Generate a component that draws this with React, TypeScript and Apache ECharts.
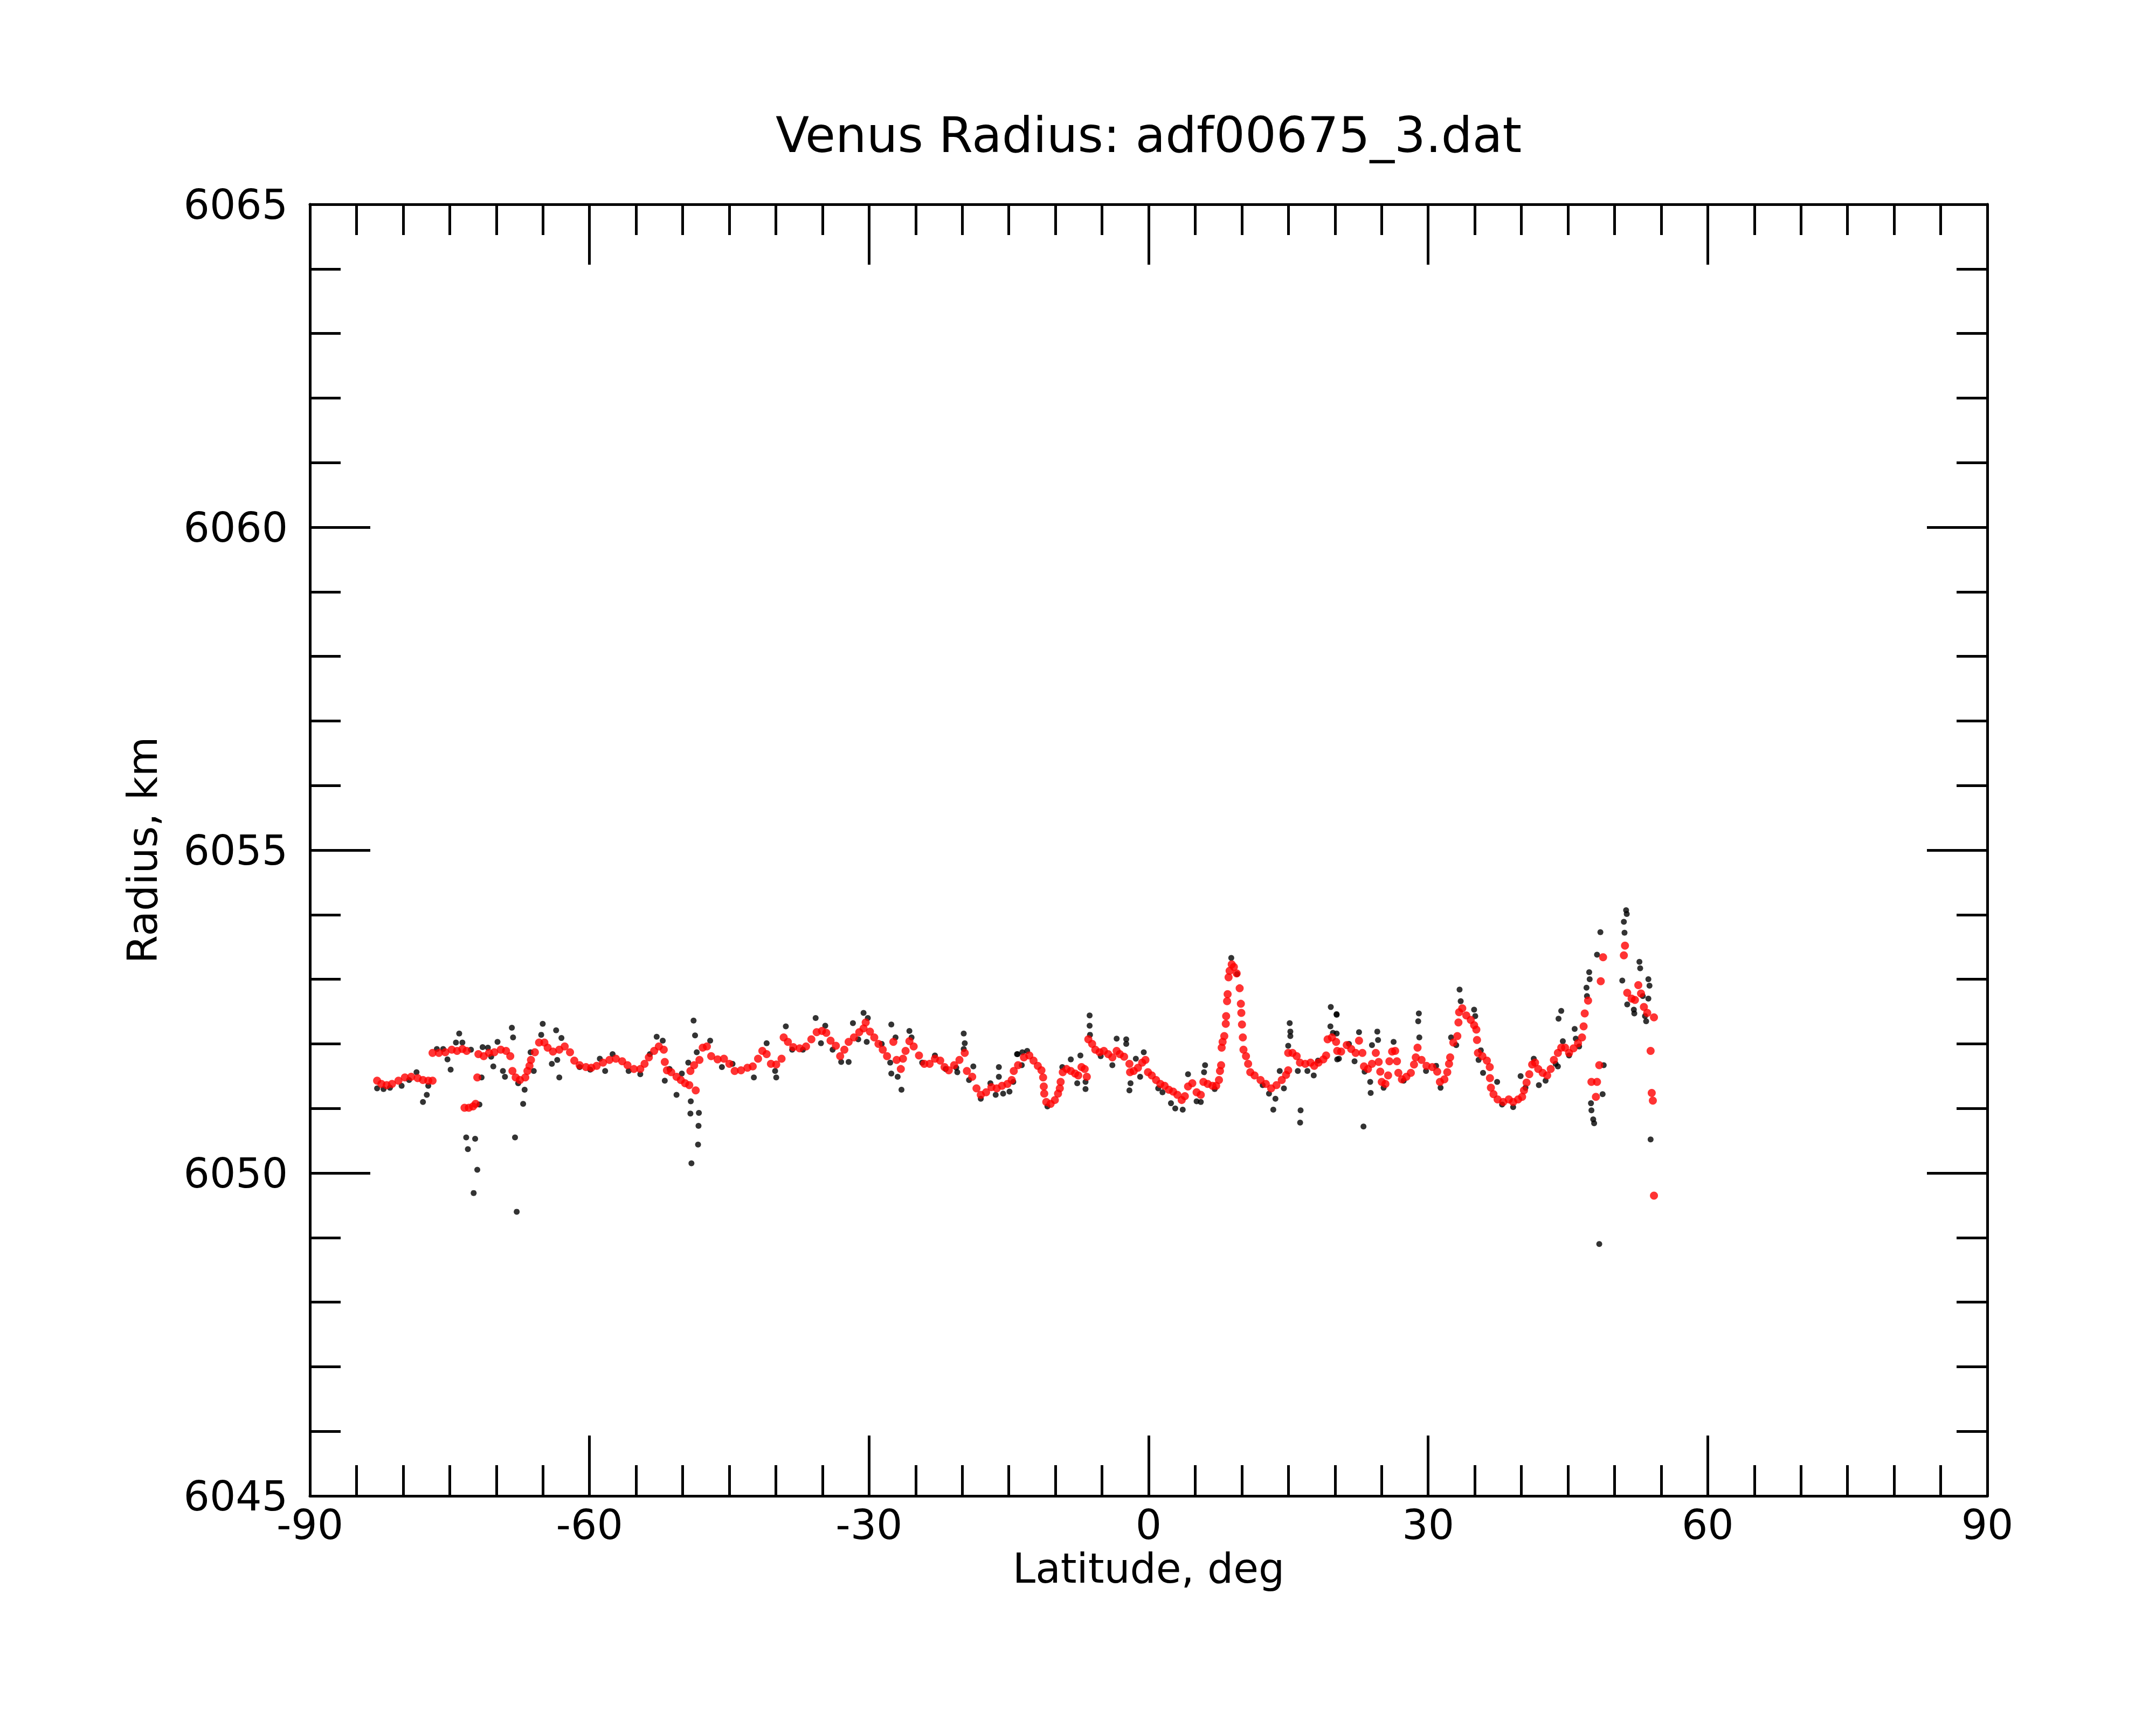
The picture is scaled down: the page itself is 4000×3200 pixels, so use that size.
import React, { useEffect, useRef } from "react";
import * as echarts from "echarts";

const chartTitle = "Venus Radius: adf00675_3.dat";
const xName = "Latitude, deg";
const yName = "Radius, km";

const xTickMin = -90;
const xTickMax = 90;
const xTickStep = 30;
const yTickMin = 6045;
const yTickMax = 6065;
const yTickStep = 5;

// Smoothed profile (red)
const redLat = [
  -82.79, -82.33, -81.76, -81.19, -80.5, -79.81, -79.13, -78.44, -77.87, -77.3, -76.84,
  -76.84, -76.16, -75.47, -74.78, -74.21, -73.64, -73.18,
  -73.41, -72.95, -72.5, -72.22, -72.04,
  -71.92, -71.35, -70.78, -70.21, -69.52, -68.95, -68.5, -68.27, -67.92, -67.47, -66.89, -66.66,
  -66.44, -66.28, -65.86, -65.41, -64.84, -64.49, -63.92, -63.24, -62.66, -62.09, -61.63, -61.06,
  -60.38, -59.8, -59.23, -58.55, -57.86, -57.17, -56.49, -55.92, -55.23, -54.55, -54.09, -53.63,
  -53.06, -52.56, -52.03, -51.92, -51.69, -51.23, -50.66, -50.2, -49.74, -49.29, -48.6, -49.17,
  -48.77, -48.2, -47.85, -47.4, -46.94, -46.25, -45.57, -44.99, -44.42, -43.74, -43.05, -42.48,
  -41.91, -41.45, -40.99, -40.53, -39.96, -39.39, -39.16, -38.71, -38.13, -37.45, -36.76, -36.19,
  -35.62, -35.05, -34.59, -34.13, -33.56, -33.1, -32.65, -32.19, -31.62, -31.05, -30.59, -30.36,
  -29.9, -29.44, -28.99, -28.53, -28.07, -27.39, -27.04, -26.59, -26.36, -26.08, -25.67, -25.21,
  -24.64, -24.07, -23.5, -22.93, -22.36, -21.9, -21.44, -20.87, -20.3, -19.73, -19.5, -18.93,
  -18.47, -18.01, -17.44, -16.87, -16.3, -15.73, -15.15, -14.69, -14.47, -14.01, -13.38, -12.8,
  -12.35, -11.89, -11.5, -11.32, -11.25, -11.2, -10.98, -10.52, -10.06, -9.72, -9.53, -9.44,
  -9.21, -8.8, -8.35, -7.89, -7.55, -7.2, -6.86, -6.63, -6.47, -6.06, -5.72, -5.26,
  -4.8, -4.34, -3.89, -3.43, -3.09, -2.63, -2.06, -1.99, -1.6, -1.14, -0.69, -0.34,
  -0.07, 0.34, 0.8, 1.26, 1.72, 2.17, 2.63, 3.09, 3.55, 3.89, 4.23, 4.69,
  5.15, 5.6, 5.88, 6.34, 6.86, 7.25, 7.55, 7.66, 7.78, 7.84, 7.94, 8.12,
  8.28, 8.32, 8.42, 8.48, 8.58, 8.69, 8.92, 9.15, 9.45, 9.77, 9.9, 9.95,
  10.02, 10.11, 10.18, 10.45, 10.68, 10.91, 11.37, 12.01, 12.58, 13.15, 13.72, 14.29,
  14.75, 14.98, 14.98, 15.44, 15.89, 16.24, 16.81, 17.38, 17.77, 18.23, 18.75, 19.05,
  19.21, 19.67, 20.12, 20.24, 20.66, 21.26, 21.74, 22.22, 22.58, 22.94, 23.11, 23.54,
  23.97, 24.38, 24.69, 24.86, 25.02, 25.41, 25.7, 25.84, 26.13, 26.46, 26.65, 26.8,
  27.18, 27.66, 28.14, 28.48, 28.67, 28.86, 29.29, 29.82, 30.44, 30.97, 31.26, 31.74,
  32.05, 32.24, 32.36, 32.7, 33.13, 33.25, 33.32, 33.66, 34.09, 34.57, 34.93, 35.17,
  35.24, 35.34, 35.82, 36.3, 36.61, 36.63, 36.73, 37.01, 37.45, 38.05, 38.65, 39.12,
  39.65, 40.08, 40.28, 40.56, 40.85, 41.16, 41.47, 41.81, 42.29, 42.77, 43.15, 43.49,
  43.92, 44.28, 44.69, 45.12, 45.6, 46.08, 46.51, 46.68, 46.8, 47.16, 47.52, 48.0,
  48.12, 48.36, 48.52, 48.77, 51.0, 51.12, 51.36, 51.83, 52.19, 52.55, 52.84, 53.15,
  53.51, 54.23, 53.87, 53.99, 54.11, 54.23,
];
const redRadius = [
  6051.43, 6051.38, 6051.36, 6051.38, 6051.43, 6051.48, 6051.49, 6051.47, 6051.44, 6051.43, 6051.43,
  6051.86, 6051.86, 6051.87, 6051.91, 6051.89, 6051.92, 6051.89,
  6051.01, 6051.01, 6051.03, 6051.07, 6051.48,
  6051.84, 6051.81, 6051.86, 6051.87, 6051.91, 6051.89, 6051.81, 6051.58, 6051.48, 6051.44, 6051.48, 6051.58,
  6051.66, 6051.75, 6051.87, 6052.02, 6052.02, 6051.94, 6051.88, 6051.91, 6051.96, 6051.87, 6051.74, 6051.67,
  6051.64, 6051.63, 6051.66, 6051.71, 6051.75, 6051.77, 6051.73, 6051.67, 6051.61, 6051.61, 6051.69, 6051.79,
  6051.89, 6051.96, 6051.91, 6051.72, 6051.59, 6051.56, 6051.49, 6051.44, 6051.39, 6051.36, 6051.28, 6051.58,
  6051.67, 6051.75, 6051.94, 6051.96, 6051.81, 6051.76, 6051.77, 6051.69, 6051.58, 6051.59, 6051.63, 6051.65,
  6051.77, 6051.89, 6051.84, 6051.69, 6051.68, 6051.77, 6052.1, 6052.03, 6051.95, 6051.93, 6051.96, 6052.07,
  6052.18, 6052.2, 6052.17, 6052.05, 6051.97, 6051.81, 6051.91, 6052.03, 6052.1, 6052.18, 6052.24, 6052.33,
  6052.19, 6052.1, 6052.0, 6051.91, 6051.81, 6052.03, 6051.75, 6051.61, 6051.77, 6051.89, 6052.04, 6051.96,
  6051.82, 6051.69, 6051.69, 6051.77, 6051.74, 6051.64, 6051.59, 6051.67, 6051.75, 6051.86, 6051.58, 6051.49,
  6051.31, 6051.21, 6051.25, 6051.33, 6051.31, 6051.35, 6051.38, 6051.44, 6051.58, 6051.67, 6051.79, 6051.82,
  6051.74, 6051.66, 6051.59, 6051.48, 6051.34, 6051.23, 6051.1, 6051.07, 6051.13, 6051.23, 6051.31, 6051.41,
  6051.56, 6051.61, 6051.58, 6051.54, 6051.51, 6051.64, 6051.61, 6051.49, 6052.07, 6052.0, 6051.91, 6051.87,
  6051.89, 6051.84, 6051.79, 6051.89, 6051.84, 6051.8, 6051.69, 6051.56, 6051.58, 6051.63, 6051.71, 6051.75,
  6051.56, 6051.51, 6051.44, 6051.38, 6051.35, 6051.29, 6051.26, 6051.21, 6051.13, 6051.19, 6051.34, 6051.39,
  6051.25, 6051.21, 6051.41, 6051.38, 6051.35, 6051.35, 6051.44, 6051.58, 6051.67, 6051.94, 6052.03, 6052.12,
  6052.31, 6052.43, 6052.66, 6052.77, 6053.03, 6053.13, 6053.23, 6053.19, 6053.09, 6052.86, 6052.62, 6052.48,
  6052.3, 6052.1, 6051.91, 6051.81, 6051.69, 6051.56, 6051.51, 6051.44, 6051.38, 6051.31, 6051.36, 6051.44,
  6051.52, 6051.59, 6051.86, 6051.86, 6051.81, 6051.71, 6051.69, 6051.71, 6051.66, 6051.71, 6051.76, 6051.82,
  6052.07, 6052.1, 6052.03, 6051.89, 6051.88, 6051.98, 6051.92, 6051.86, 6052.05, 6051.86, 6051.65, 6051.61,
  6051.69, 6051.86, 6051.72, 6051.57, 6051.41, 6051.38, 6051.51, 6051.73, 6051.88, 6051.89, 6051.73, 6051.55,
  6051.45, 6051.49, 6051.55, 6051.68, 6051.79, 6051.94, 6051.75, 6051.66, 6051.64, 6051.57, 6051.41, 6051.45,
  6051.56, 6051.69, 6051.79, 6052.02, 6052.12, 6052.33, 6052.49, 6052.55, 6052.44, 6052.37, 6052.29, 6052.22,
  6052.06, 6051.86, 6051.81, 6051.74, 6051.64, 6051.47, 6051.32, 6051.22, 6051.14, 6051.1, 6051.14, 6051.1,
  6051.14, 6051.18, 6051.28, 6051.4, 6051.53, 6051.68, 6051.71, 6051.61, 6051.55, 6051.51, 6051.61, 6051.75,
  6051.86, 6051.94, 6051.94, 6051.86, 6051.93, 6052.01, 6052.1, 6052.27, 6052.47, 6052.67, 6051.41, 6051.18,
  6051.41, 6051.67, 6052.97, 6053.34, 6053.37, 6053.52, 6052.79, 6052.7, 6052.68, 6052.91, 6052.78, 6052.57,
  6052.48, 6052.41, 6051.89, 6051.24, 6051.12, 6049.65,
];

// Individual measurements (black)
const blackLat = [
  -82.79, -82.1, -81.41, -80.16, -79.36, -78.56, -77.3, -77.46, -77.87, -76.38, -75.7, -75.24,
  -74.9, -74.33, -73.98, -73.64, -72.72, -73.23, -72.27, -73.05, -72.04, -72.43, -71.81, -71.58,
  -71.47, -70.9, -70.55, -70.32, -69.87, -69.29, -69.07, -68.33, -68.2, -67.99, -67.81, -67.65,
  -67.12, -66.96, -66.32, -65.98, -65.18, -65.02, -64.04, -63.58, -63.46, -63.24, -63.01, -61.06,
  -59.92, -58.89, -58.32, -57.52, -55.8, -54.55, -53.52, -52.79, -52.14, -51.92, -51.41, -50.66,
  -50.09, -49.4, -48.83, -48.67, -48.49, -49.13, -49.17, -48.26, -48.3, -48.35, -49.06,
  -47.05, -45.79, -44.65, -42.36, -40.99, -39.96, -40.08, -38.93, -38.25, -37.1, -35.73, -34.7,
  -35.16, -33.91, -32.99, -32.19, -31.73, -31.16, -30.59, -30.13, -30.25, -28.64, -27.61, -27.16,
  -27.73, -27.61, -26.93, -26.52, -25.67, -25.44, -24.3, -22.93, -21.78, -20.64, -20.53, -19.84,
  -19.73, -19.84, -19.27, -18.81, -18.01, -16.98, -16.41, -16.07, -16.07, -15.61, -14.93, -14.12,
  -13.55, -14.52, -14.06, -13.03, -13.61, -10.86, -9.26, -8.35, -7.66, -7.32, -6.77, -6.77,
  -6.33, -6.33, -6.29, -5.14, -3.89, -3.43, -2.4, -2.4, -2.06, -1.94, -1.37, -0.52,
  -0.91, 1.03, 1.49, 2.4, 2.86, 3.66, 4.23, 5.15, 5.6, 5.95, 6.06, 7.09,
  8.87, 9.49, 12.24, 12.92, 13.38, 13.61, 14.07, 14.52, 14.98, 15.14, 15.21, 15.21,
  16.01, 16.31, 16.26, 17.04, 17.72, 18.18, 19.55, 20.17, 19.51, 19.78, 20.24, 20.18,
  20.18, 20.42, 21.5, 22.1, 22.58, 23.06, 23.18, 23.78, 23.83, 23.97, 24.54, 24.62,
  25.22, 26.29, 27.37, 29.0, 28.93, 29.05, 29.77, 30.85, 31.33, 32.46, 33.01, 33.37,
  33.49, 34.93, 35.05, 35.65, 35.41, 35.89, 37.4, 37.93, 39.12, 39.92, 40.44, 41.33,
  41.88, 42.6, 43.68, 43.99, 44.28, 43.92, 44.45, 45.12, 45.72, 45.84, 46.2, 46.99,
  47.04, 47.28, 47.33, 47.47, 47.52, 47.71, 47.81, 48.12, 48.48, 48.36, 48.84, 48.72,
  50.83, 51.0, 51.07, 51.24, 51.31, 51.36, 52.07, 52.12, 52.67, 52.75, 53.03, 53.63,
  53.75, 53.63, 53.39, 53.27, 53.87,
];
const blackRadius = [
  6051.31, 6051.3, 6051.32, 6051.35, 6051.44, 6051.56, 6051.35, 6051.21, 6051.1, 6051.92, 6051.92, 6051.76,
  6051.6, 6052.02, 6052.16, 6052.02, 6051.91, 6050.55, 6050.53, 6050.37, 6050.05, 6049.69, 6051.06, 6051.48,
  6051.95, 6051.94, 6051.8, 6051.65, 6052.03, 6051.58, 6051.49, 6052.25, 6052.1, 6050.55, 6049.4, 6051.39,
  6051.07, 6051.29, 6051.87, 6051.58, 6052.14, 6052.31, 6051.69, 6052.21, 6051.75, 6051.48, 6052.09, 6051.64,
  6051.6, 6051.77, 6051.58, 6051.84, 6051.58, 6051.53, 6051.84, 6052.11, 6052.05, 6051.43, 6051.61, 6051.21,
  6051.54, 6051.71, 6052.36, 6052.13, 6051.87, 6051.11, 6050.92, 6050.93, 6050.73, 6050.44, 6050.15,
  6052.05, 6051.64, 6051.69, 6051.48, 6052.01, 6051.48, 6051.58, 6052.27, 6051.91, 6051.91, 6052.4, 6052.28,
  6052.01, 6051.91, 6051.72, 6051.72, 6052.32, 6052.07, 6052.48, 6052.4, 6052.03, 6052.0, 6052.3, 6052.1,
  6051.71, 6051.54, 6051.49, 6051.29, 6052.2, 6052.1, 6051.71, 6051.82, 6051.61, 6051.63, 6051.56, 6052.16,
  6052.01, 6051.92, 6051.44, 6051.65, 6051.15, 6051.39, 6051.21, 6051.64, 6051.49, 6051.23, 6051.26, 6051.84,
  6051.87, 6051.41, 6051.84, 6051.89, 6051.67, 6051.03, 6051.64, 6051.76, 6051.39, 6051.82, 6051.3, 6051.41,
  6052.44, 6052.28, 6052.14, 6051.81, 6051.67, 6052.08, 6052.07, 6052.0, 6051.28, 6051.39, 6051.77, 6051.87,
  6051.49, 6051.31, 6051.25, 6051.08, 6051.0, 6050.98, 6051.53, 6051.11, 6051.1, 6051.56, 6051.67, 6051.3,
  6053.33, 6053.08, 6051.36, 6051.23, 6050.98, 6051.15, 6051.58, 6051.31, 6051.97, 6052.32, 6052.19, 6052.12,
  6051.58, 6050.97, 6050.78, 6051.58, 6051.51, 6051.74, 6052.57, 6052.46, 6052.27, 6052.17, 6051.76, 6052.45,
  6052.16, 6051.77, 6052.0, 6051.73, 6052.18, 6050.72, 6051.57, 6051.41, 6051.24, 6051.98, 6052.19, 6052.06,
  6051.32, 6052.03, 6051.43, 6052.47, 6052.35, 6052.1, 6051.58, 6051.66, 6051.32, 6052.1, 6051.98, 6052.84,
  6052.66, 6052.53, 6052.43, 6051.9, 6051.75, 6051.55, 6051.41, 6051.06, 6051.02, 6051.5, 6051.32, 6051.77,
  6051.36, 6051.43, 6051.69, 6052.39, 6052.51, 6051.65, 6052.04, 6051.82, 6052.23, 6052.08, 6051.96, 6052.87,
  6052.74, 6053.11, 6053.0, 6051.08, 6050.97, 6050.83, 6050.77, 6053.38, 6053.73, 6048.9, 6051.67, 6051.22,
  6052.98, 6053.89, 6053.72, 6054.07, 6054.01, 6052.61, 6052.53, 6052.47, 6053.27, 6053.17, 6052.74, 6053.0,
  6052.9, 6052.7, 6052.35, 6052.43, 6050.52,
];

const FONT = "DejaVu Sans";

function makeXAxis(position: "bottom" | "top", showLabel: boolean) {
  return {
    type: "value",
    position,
    min: xTickMin,
    max: xTickMax,
    interval: xTickStep,
    axisLine: { show: true, onZero: false, lineStyle: { color: "#000", width: 5 } },
    axisTick: { show: true, inside: true, length: 112, lineStyle: { color: "#000", width: 5 } },
    minorTick: { show: true, splitNumber: 6, length: 57, lineStyle: { color: "#000", width: 5 } },
    splitLine: { show: false },
    minorSplitLine: { show: false },
    axisLabel: {
      show: showLabel,
      fontSize: 76,
      color: "#000",
      fontFamily: FONT,
      margin: 15,
      formatter: (v: number) => String(v),
    },
  };
}

function makeYAxis(position: "left" | "right", showLabel: boolean) {
  return {
    type: "value",
    position,
    min: yTickMin,
    max: yTickMax,
    interval: yTickStep,
    axisLine: { show: true, onZero: false, lineStyle: { color: "#000", width: 5 } },
    axisTick: { show: true, inside: true, length: 112, lineStyle: { color: "#000", width: 5 } },
    minorTick: { show: true, splitNumber: 5, length: 57, lineStyle: { color: "#000", width: 5 } },
    splitLine: { show: false },
    minorSplitLine: { show: false },
    axisLabel: {
      show: showLabel,
      fontSize: 76,
      color: "#000",
      fontFamily: FONT,
      margin: 41,
      formatter: (v: number) => String(v),
    },
  };
}

export default function App() {
  const ref = useRef<HTMLDivElement>(null);

  useEffect(() => {
    if (!ref.current) return;
    const chart = echarts.init(ref.current, undefined, { renderer: "svg" });

    const blackData = blackLat.map((x, i) => [x, blackRadius[i]]);
    const redData = redLat.map((x, i) => [x, redRadius[i]]);

    chart.setOption({
      animation: false,
      backgroundColor: "#ffffff",
      grid: { left: 575, top: 379, width: 3112, height: 2396, containLabel: false },
      xAxis: [makeXAxis("bottom", true), makeXAxis("top", false)],
      yAxis: [makeYAxis("left", true), makeYAxis("right", false)],
      graphic: [
        {
          type: "text",
          x: 2131,
          y: 250,
          style: {
            text: chartTitle,
            fontSize: 91,
            fontFamily: FONT,
            fill: "#000",
            align: "center",
            verticalAlign: "middle",
          },
        },
        {
          type: "text",
          x: 2131,
          y: 2909,
          style: {
            text: xName,
            fontSize: 76,
            fontFamily: FONT,
            fill: "#000",
            align: "center",
            verticalAlign: "middle",
          },
        },
        {
          type: "text",
          x: 264,
          y: 1577,
          rotation: Math.PI / 2,
          style: {
            text: yName,
            fontSize: 76,
            fontFamily: FONT,
            fill: "#000",
            align: "center",
            verticalAlign: "middle",
          },
        },
      ],
      series: [
        {
          type: "scatter",
          name: "raw",
          xAxisIndex: 0,
          yAxisIndex: 0,
          data: blackData,
          symbol: "circle",
          symbolSize: 11,
          itemStyle: { color: "#000000" },
          silent: true,
          z: 2,
        },
        {
          type: "scatter",
          name: "smoothed",
          xAxisIndex: 0,
          yAxisIndex: 0,
          data: redData,
          symbol: "circle",
          symbolSize: 15,
          itemStyle: { color: "#ff0000" },
          silent: true,
          z: 3,
        },
      ],
    });

    return () => {
      chart.dispose();
    };
  }, []);

  return (
    <div
      ref={ref}
      style={{ position: "absolute", left: 0, top: 0, width: 4000, height: 3200, background: "#fff" }}
    />
  );
}
